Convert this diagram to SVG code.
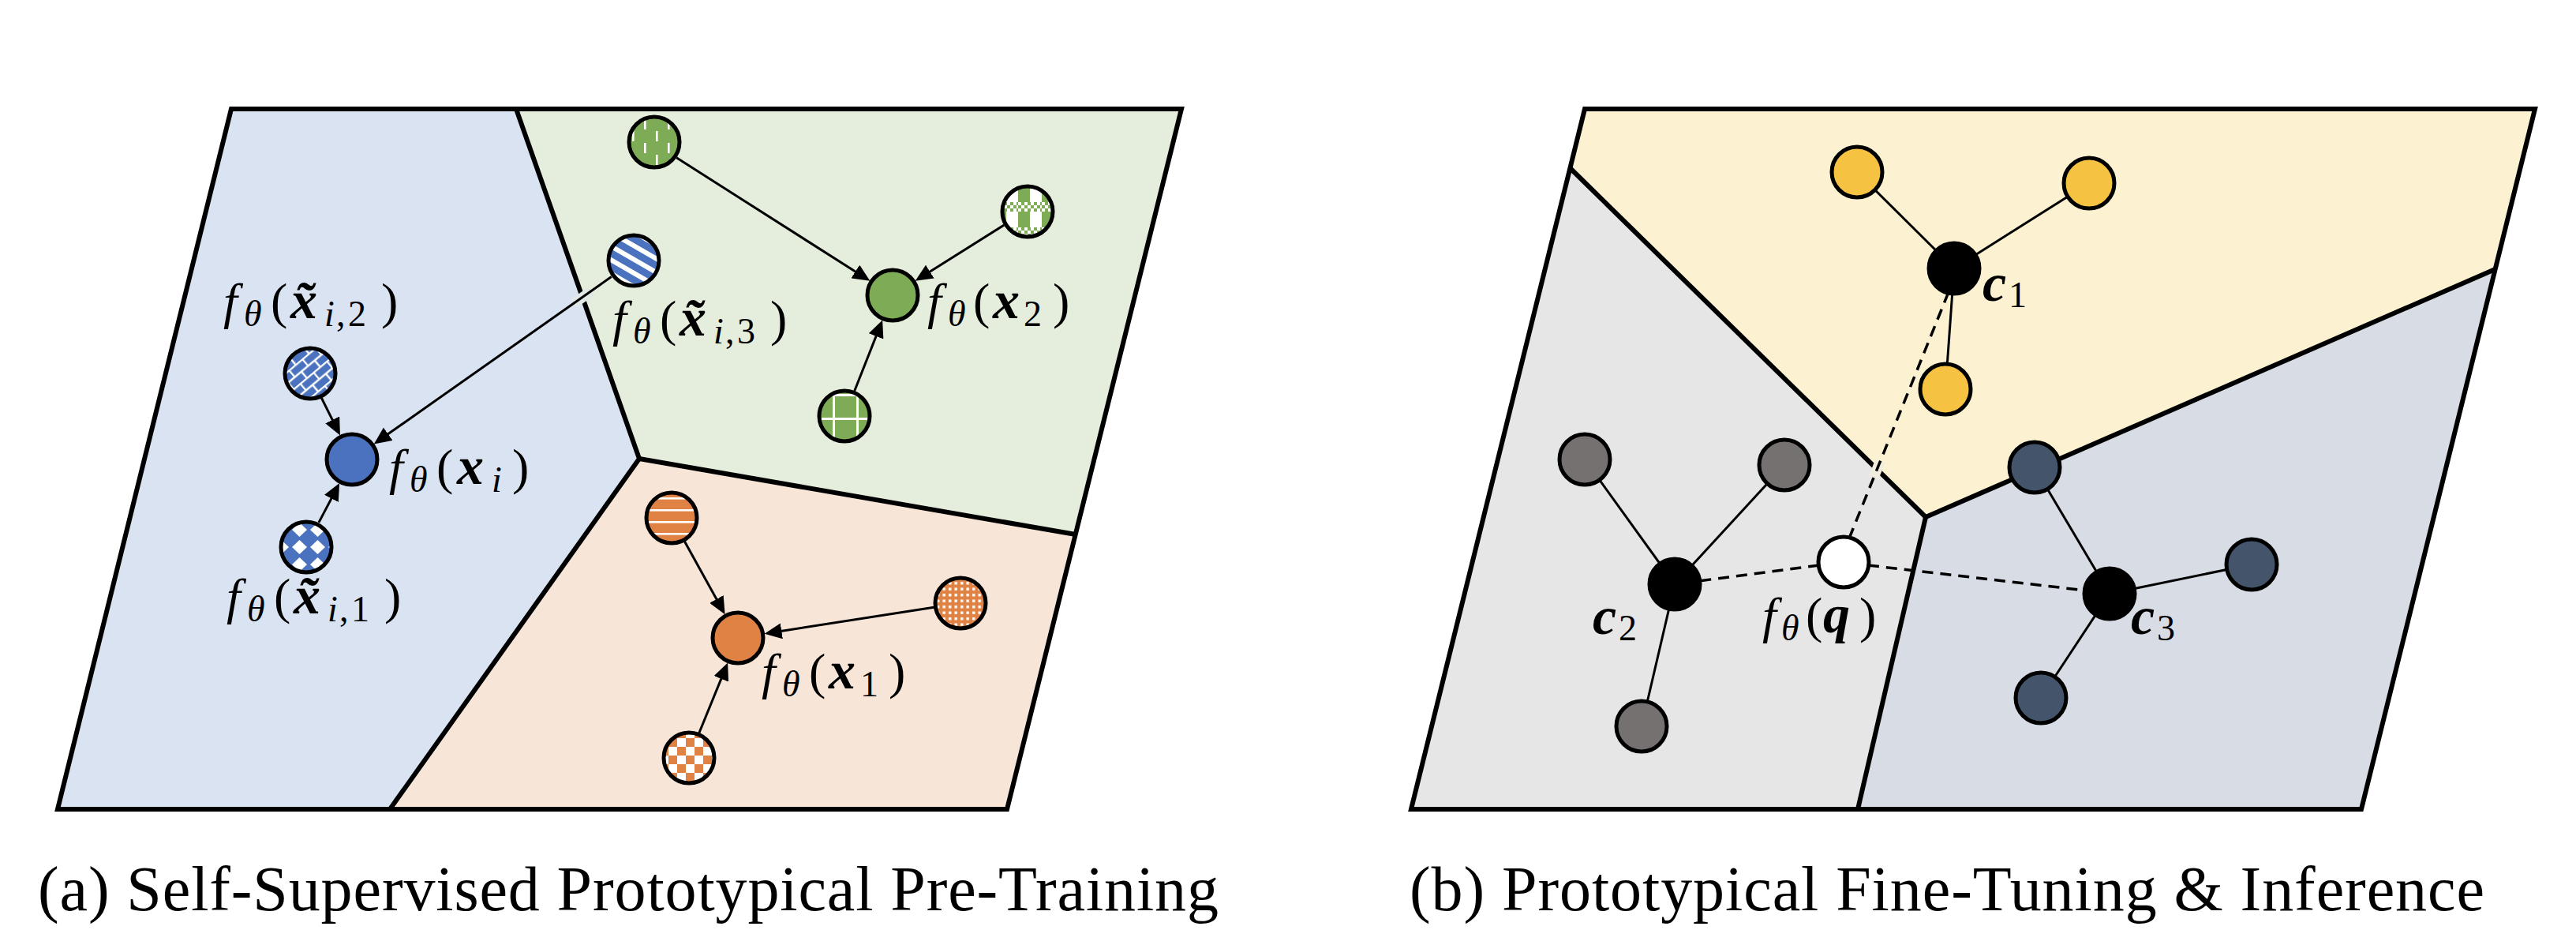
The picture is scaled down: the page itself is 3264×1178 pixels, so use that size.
<svg xmlns="http://www.w3.org/2000/svg" width="3264" height="1178" viewBox="0 0 3264 1178">
<style>
.region{stroke:none}
.border{fill:none;stroke:#000;stroke-width:6;stroke-linejoin:miter}
.node{stroke:#000;stroke-width:5}
.arrow{stroke:#000;stroke-width:3;fill:none;marker-end:url(#ah)}
.link{stroke:#000;stroke-width:3;fill:none}
.dash{stroke:#000;stroke-width:3.5;fill:none;stroke-dasharray:14 9}
.halo{stroke-width:13;fill:none}
.m{font-family:'Liberation Serif','Times New Roman','DejaVu Serif',serif;font-size:64px;fill:#000}
.it{font-style:italic}
.bi{font-style:italic;font-weight:bold;font-size:68px}
.sub{font-size:46px}
.cap{font-family:'Liberation Serif','Times New Roman','DejaVu Serif',serif;font-size:80px;fill:#000}
</style>
<defs>
<marker id="ah" markerUnits="userSpaceOnUse" markerWidth="24" markerHeight="20" refX="14" refY="10" orient="auto">
<path d="M0,0 L22,10 L0,20 Z" fill="#000"/>
</marker>
<pattern id="pBrick" width="22" height="22" patternUnits="userSpaceOnUse" patternTransform="rotate(-40)">
<rect width="22" height="22" fill="#4A72BE"/>
<path d="M0,1H22 M0,12H22 M1,1V12 M12,12V22" stroke="#fff" stroke-width="2.5"/>
</pattern>
<pattern id="pDiamond" width="23" height="22" patternUnits="userSpaceOnUse">
<rect width="23" height="22" fill="#4A72BE"/>
<polygon points="11.5,2 21,11 11.5,20 2,11" fill="#fff"/>
</pattern>
<pattern id="pStripe" width="15" height="15" patternUnits="userSpaceOnUse" patternTransform="rotate(30)">
<rect width="15" height="15" fill="#4A72BE"/>
<rect width="15" height="6" fill="#fff"/>
</pattern>
<pattern id="pDash" width="30" height="30" patternUnits="userSpaceOnUse">
<rect width="30" height="30" fill="#7DAB56"/>
<rect x="6" y="1" width="2.6" height="13" fill="#fff"/>
<rect x="21" y="16" width="2.6" height="13" fill="#fff"/>
</pattern>
<pattern id="pSmallCheck" width="8" height="8" patternUnits="userSpaceOnUse">
<rect width="8" height="8" fill="#7DAB56"/>
<rect width="4" height="4" fill="#fff"/>
<rect x="4" y="4" width="4" height="4" fill="#fff"/>
</pattern>
<pattern id="pPlaid" width="30" height="32" patternUnits="userSpaceOnUse">
<rect width="30" height="32" fill="#7DAB56"/>
<rect x="15" width="15" height="32" fill="#fff"/>
<rect y="0" width="30" height="12" fill="url(#pSmallCheck)"/>
</pattern>
<pattern id="pGrid" width="30" height="30" patternUnits="userSpaceOnUse">
<rect width="30" height="30" fill="#7DAB56"/>
<rect x="5" width="3" height="30" fill="#fff"/>
<rect y="19" width="30" height="3" fill="#fff"/>
</pattern>
<pattern id="pHStripe" width="14" height="15" patternUnits="userSpaceOnUse">
<rect width="14" height="15" fill="#E08243"/>
<rect y="0" width="14" height="2.6" fill="#fff"/>
</pattern>
<pattern id="pDots" width="7.5" height="7.5" patternUnits="userSpaceOnUse">
<rect width="7.5" height="7.5" fill="#E08243"/>
<rect x="2" y="2" width="3.4" height="3.4" fill="#fff"/>
</pattern>
<pattern id="pCheck" width="22" height="22" patternUnits="userSpaceOnUse">
<rect width="22" height="22" fill="#fff"/>
<rect width="11" height="11" fill="#E08243"/>
<rect x="11" y="11" width="11" height="11" fill="#E08243"/>
</pattern>
</defs>

<!-- Panel (a) regions -->
<g id="panel-a-regions">
<polygon class="region" fill="#DAE3F1" points="293,138 654,138 810,581 494,1025 73,1025"/>
<polygon class="region" fill="#E5EEDC" points="654,138 1497,138 1363,677 810,581"/>
<polygon class="region" fill="#F7E5D8" points="810,581 1363,677 1276,1025 494,1025"/>
<polyline class="border" points="654,138 810,581 494,1025"/>
<polyline class="border" points="810,581 1363,677"/>
<polygon class="border" points="293,138 1497,138 1276,1025 73,1025"/>
</g>

<!-- Panel (b) regions -->
<g id="panel-b-regions">
<polygon class="region" fill="#FCF1D1" points="2008,138 3212,138 3161.6,341 2440,655 1989.5,213"/>
<polygon class="region" fill="#E6E6E6" points="1989.5,213 2440,655 2354,1025 1788,1025"/>
<polygon class="region" fill="#D7DCE5" points="2440,655 3161.6,341 2992,1025 2354,1025"/>
<polyline class="border" points="1989.5,213 2440,655 3161.6,341"/>
<polyline class="border" points="2440,655 2354,1025"/>
<polygon class="border" points="2008,138 3212,138 2992,1025 1788,1025"/>
</g>

<!-- Connectors -->
<g id="connectors">
<line class="halo" stroke="#E0E9E6" x1="749" y1="369" x2="727" y2="384.5"/>
<line class="arrow" x1="407.1" y1="503.5" x2="427.4" y2="544.4"/>
<line class="arrow" x1="403.9" y1="661.9" x2="426.4" y2="619.1"/>
<line class="arrow" x1="774.7" y1="350.6" x2="480.3" y2="557.8"/>
<line class="arrow" x1="857.2" y1="199.8" x2="1095.6" y2="351.5"/>
<line class="arrow" x1="1272.2" y1="285.1" x2="1166.5" y2="351.6"/>
<line class="arrow" x1="1082.8" y1="495" x2="1115.2" y2="412.9"/>
<line class="arrow" x1="867.4" y1="685.8" x2="914.7" y2="771.2"/>
<line class="arrow" x1="1183.4" y1="769.2" x2="976.5" y2="801.5"/>
<line class="arrow" x1="885.8" y1="928.5" x2="919.1" y2="846.9"/>

<line class="link" x1="2476" y1="340" x2="2353" y2="218"/>
<line class="link" x1="2476" y1="340" x2="2647" y2="232"/>
<line class="link" x1="2476" y1="340" x2="2465" y2="493"/>
<line class="link" x1="2122" y1="740" x2="2008" y2="582"/>
<line class="link" x1="2122" y1="740" x2="2261" y2="589"/>
<line class="link" x1="2122" y1="740" x2="2080" y2="920"/>
<line class="link" x1="2673" y1="752" x2="2578" y2="592"/>
<line class="link" x1="2673" y1="752" x2="2853" y2="715"/>
<line class="link" x1="2673" y1="752" x2="2586" y2="884"/>
<line class="halo" stroke="#F1ECDC" x1="2374" y1="605" x2="2382.5" y2="584"/>
<line class="dash" x1="2343" y1="682" x2="2469" y2="370"/>
<line class="dash" x1="2305" y1="716" x2="2152" y2="736"/>
<line class="dash" x1="2367" y1="716" x2="2643" y2="748"/>
</g>

<!-- Panel (a) nodes -->
<g id="a-xi">
<circle class="node" cx="446" cy="582" r="32" fill="#4A72BE"/>
<text class="m"><tspan class="it" x="493" y="613">f</tspan><tspan class="it sub" x="519" y="623">θ</tspan><tspan x="553" y="613">(</tspan><tspan class="bi" x="579" y="613">x</tspan><tspan class="it sub" x="623" y="623">i</tspan><tspan x="649" y="613">)</tspan></text>
</g>
<g id="a-xi2">
<circle class="node" cx="393" cy="473" r="32" fill="url(#pBrick)"/>
<text class="m"><tspan class="it" x="283" y="403">f</tspan><tspan class="it sub" x="309" y="413">θ</tspan><tspan x="343" y="403">(</tspan><tspan class="bi" x="368" y="403">x̃</tspan><tspan class="it sub" x="411" y="413">i</tspan><tspan class="sub" x="426" y="413">,</tspan><tspan class="sub" x="441" y="413">2</tspan><tspan x="483" y="403">)</tspan></text>
</g>
<g id="a-xi1">
<circle class="node" cx="388" cy="693" r="32" fill="url(#pDiamond)"/>
<text class="m"><tspan class="it" x="287" y="777">f</tspan><tspan class="it sub" x="313" y="787">θ</tspan><tspan x="347" y="777">(</tspan><tspan class="bi" x="372" y="777">x̃</tspan><tspan class="it sub" x="415" y="787">i</tspan><tspan class="sub" x="430" y="787">,</tspan><tspan class="sub" x="445" y="787">1</tspan><tspan x="487" y="777">)</tspan></text>
</g>
<g id="a-xi3">
<circle class="node" cx="803" cy="330" r="32" fill="url(#pStripe)"/>
<text class="m"><tspan class="it" x="776" y="425">f</tspan><tspan class="it sub" x="802" y="435">θ</tspan><tspan x="836" y="425">(</tspan><tspan class="bi" x="861" y="425">x̃</tspan><tspan class="it sub" x="904" y="435">i</tspan><tspan class="sub" x="919" y="435">,</tspan><tspan class="sub" x="934" y="435">3</tspan><tspan x="976" y="425">)</tspan></text>
</g>
<g id="a-x2">
<circle class="node" cx="1131" cy="374" r="32" fill="#7DAB56"/>
<text class="m"><tspan class="it" x="1175" y="403">f</tspan><tspan class="it sub" x="1201" y="413">θ</tspan><tspan x="1233" y="403">(</tspan><tspan class="bi" x="1258" y="403">x</tspan><tspan class="sub" x="1297" y="413">2</tspan><tspan x="1334" y="403">)</tspan></text>
</g>
<g id="a-x2-a">
<circle class="node" cx="829" cy="180" r="32" fill="url(#pDash)"/>
</g>
<g id="a-x2-b">
<circle class="node" cx="1302" cy="268" r="32" fill="url(#pPlaid)"/>
</g>
<g id="a-x2-c">
<circle class="node" cx="1070" cy="527" r="32" fill="url(#pGrid)"/>
</g>
<g id="a-x1">
<circle class="node" cx="935" cy="808" r="32" fill="#E08243"/>
<text class="m"><tspan class="it" x="965" y="872">f</tspan><tspan class="it sub" x="991" y="882">θ</tspan><tspan x="1025" y="872">(</tspan><tspan class="bi" x="1050" y="872">x</tspan><tspan class="sub" x="1090" y="882">1</tspan><tspan x="1126" y="872">)</tspan></text>
</g>
<g id="a-x1-a">
<circle class="node" cx="851" cy="656" r="32" fill="url(#pHStripe)"/>
</g>
<g id="a-x1-b">
<circle class="node" cx="1217" cy="764" r="32" fill="url(#pDots)"/>
</g>
<g id="a-x1-c">
<circle class="node" cx="873" cy="960" r="32" fill="url(#pCheck)"/>
</g>

<!-- Panel (b) nodes -->
<g id="b-c1">
<circle class="node" cx="2476" cy="340" r="32" fill="#000"/>
<text class="m"><tspan class="bi" x="2512" y="381">c</tspan><tspan class="sub" x="2545" y="389">1</tspan></text>
</g>
<g id="b-y1"><circle class="node" cx="2353" cy="218" r="32" fill="#F5C242"/></g>
<g id="b-y2"><circle class="node" cx="2647" cy="232" r="32" fill="#F5C242"/></g>
<g id="b-y3"><circle class="node" cx="2465" cy="493" r="32" fill="#F5C242"/></g>
<g id="b-c2">
<circle class="node" cx="2122" cy="740" r="32" fill="#000"/>
<text class="m"><tspan class="bi" x="2018" y="803">c</tspan><tspan class="sub" x="2051" y="811">2</tspan></text>
</g>
<g id="b-g1"><circle class="node" cx="2008" cy="582" r="32" fill="#767171"/></g>
<g id="b-g2"><circle class="node" cx="2261" cy="589" r="32" fill="#767171"/></g>
<g id="b-g3"><circle class="node" cx="2080" cy="920" r="32" fill="#767171"/></g>
<g id="b-c3">
<circle class="node" cx="2673" cy="752" r="32" fill="#000"/>
<text class="m"><tspan class="bi" x="2700" y="803">c</tspan><tspan class="sub" x="2733" y="811">3</tspan></text>
</g>
<g id="b-s1"><circle class="node" cx="2578" cy="592" r="32" fill="#44546A"/></g>
<g id="b-s2"><circle class="node" cx="2853" cy="715" r="32" fill="#44546A"/></g>
<g id="b-s3"><circle class="node" cx="2586" cy="884" r="32" fill="#44546A"/></g>
<g id="b-q">
<circle class="node" cx="2336" cy="712" r="32" fill="#fff"/>
<text class="m"><tspan class="it" x="2233" y="801">f</tspan><tspan class="it sub" x="2257" y="811">θ</tspan><tspan x="2288" y="801">(</tspan><tspan class="bi" x="2310" y="801">q</tspan><tspan x="2356" y="801">)</tspan></text>
</g>

<!-- Captions -->
<g id="captions">
<text class="cap" x="48" y="1153" textLength="1496">(a) Self-Supervised Prototypical Pre-Training</text>
<text class="cap" x="1786" y="1153" textLength="1362">(b) Prototypical Fine-Tuning &amp; Inference</text>
</g>
</svg>
